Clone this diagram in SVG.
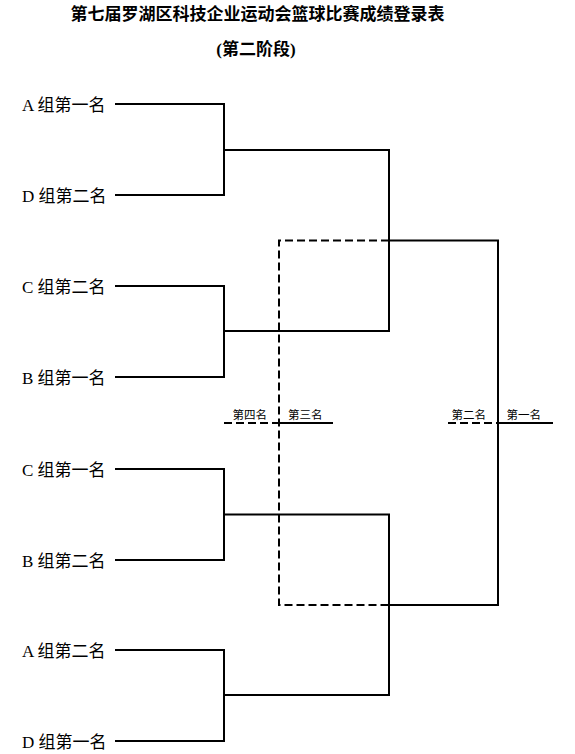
<svg xmlns="http://www.w3.org/2000/svg" width="575" height="754" viewBox="0 0 575 754">
<style>
.t{font-family:"Liberation Serif","Noto Sans CJK SC",serif;fill:#000}
.title{font-size:17px;font-weight:bold;text-anchor:middle}
.lab{font-size:17px}
.sm{font-size:11.5px}
.ln{fill:none;stroke:#000;stroke-width:2}
.dl{fill:none;stroke:#000;stroke-width:2;stroke-dasharray:8 4}
</style>
<rect width="575" height="754" fill="#fff"/>
<g id="title">
<text class="t title" x="257.5" y="20">第七届罗湖区科技企业运动会篮球比赛成绩登录表</text>
<text class="t title" x="256" y="55">(第二阶段)</text>
</g>
<g id="connectors">
<path class="ln" d="M115 104H224V195H115M224 150H389V331H224"/>
<path class="ln" d="M115 286H224V377H115"/>
<path class="ln" d="M115 469H224V560H115M224 514.5H389V695H224"/>
<path class="ln" d="M115 650H224V741H115"/>
<path class="ln" d="M389 240.5H498V605H389"/>
<path class="dl" d="M389 240.5H279V605H389"/>
<path class="ln" d="M498 423H553M279 423H333"/>
<path class="dl" d="M224 423H279M448 423H498"/>
</g>
<g id="n-a1"><text class="t lab" x="22" y="111">A 组第一名</text></g>
<g id="n-d2"><text class="t lab" x="22" y="202">D 组第二名</text></g>
<g id="n-c2"><text class="t lab" x="22" y="293">C 组第二名</text></g>
<g id="n-b1"><text class="t lab" x="22" y="384">B 组第一名</text></g>
<g id="n-c1"><text class="t lab" x="22" y="476">C 组第一名</text></g>
<g id="n-b2"><text class="t lab" x="22" y="567">B 组第二名</text></g>
<g id="n-a2"><text class="t lab" x="22" y="657">A 组第二名</text></g>
<g id="n-d1"><text class="t lab" x="22" y="748">D 组第一名</text></g>
<g id="n-4th"><text class="t sm" x="232.5" y="419">第四名</text></g>
<g id="n-3rd"><text class="t sm" x="288" y="419">第三名</text></g>
<g id="n-2nd"><text class="t sm" x="451.5" y="419">第二名</text></g>
<g id="n-1st"><text class="t sm" x="506.5" y="419">第一名</text></g>
</svg>
